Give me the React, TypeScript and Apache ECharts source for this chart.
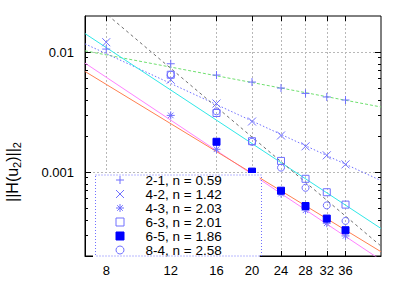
import { useEffect, useRef } from 'react';
import * as echarts from 'echarts';

// ---- data ----
const xTickValues = [8, 12, 16, 20, 24, 28, 32, 36];
const yTickValues = [0.001, 0.01];
const yMinorTickValues = [
  0.0003, 0.0004, 0.0005, 0.0006, 0.0007, 0.0008, 0.0009,
  0.002, 0.003, 0.004, 0.005, 0.006, 0.007, 0.008, 0.009,
];

const names = [
  '2-1, n = 0.59',
  '4-2, n = 1.42',
  '4-3, n = 2.03',
  '6-3, n = 2.01',
  '6-5, n = 1.86',
  '8-4, n = 2.58',
];

const x21 = [8, 12, 16, 20, 24, 28, 32, 36];
const y21 = [0.0106, 0.008, 0.00644, 0.00563, 0.00502, 0.00453, 0.00423, 0.00399];
const x42 = [8, 12, 16, 20, 24, 28, 32, 36];
const y42 = [0.0121, 0.00589, 0.00373, 0.00264, 0.00202, 0.00164, 0.00138, 0.00116];
const x43 = [12, 16, 20, 24, 28, 32, 36];
const y43 = [0.00297, 0.00155, 0.000976, 0.000662, 0.000481, 0.000375, 0.000294];
const x63 = [12, 16, 20, 24, 28, 32, 36];
const y63 = [0.00648, 0.00311, 0.00181, 0.00124, 0.00088, 0.00068, 0.000536];
const x65 = [16, 20, 24, 28, 32, 36];
const y65 = [0.00179, 0.00101, 0.0007, 0.000522, 0.00041, 0.000328];
const x84 = [12, 16, 20, 24, 28, 32, 36];
const y84 = [0.0065, 0.00321, 0.00179, 0.00109, 0.00074, 0.000528, 0.000392];

// fitted power-law lines, end points at x = 7 and x = 45
const fitX = [7, 45];
const fit21 = [0.01025, 0.00349];
const fit42 = [0.01172, 0.00085];
const fit43 = [0.0081, 0.000185];
const fit63 = [0.01427, 0.000339];
const fit65 = [0.0069, 0.000217];
const fit84 = [0.0294, 0.000242];

const FONT = '"Liberation Sans", Arial, sans-serif';
const LIGHT = '#7070ff';
const DARK = '#0000ff';
const PLUS = 'path://M5,0L5,10M0,5L10,5';
const CROSS = 'path://M0,0L10,10M10,0L0,10';
const STAR = 'path://M5,0L5,10M0,5L10,5M1.5,1.5L8.5,8.5M8.5,1.5L1.5,8.5';
const SQUARE = 'path://M0,0L10,0L10,10L0,10Z';

const zip = (xs: number[], ys: number[]) => xs.map((x, i) => [x, ys[i]]);

export default function App() {
  const ref = useRef<HTMLDivElement>(null);
  useEffect(() => {
    if (!ref.current) return;
    const chart = echarts.init(ref.current, undefined, { renderer: 'svg' });

    const markers = [
      { name: names[0], xs: x21, ys: y21, symbol: PLUS, size: 8, fill: 'rgba(0,0,0,0)', stroke: LIGHT },
      { name: names[1], xs: x42, ys: y42, symbol: CROSS, size: 8, fill: 'rgba(0,0,0,0)', stroke: LIGHT },
      { name: names[2], xs: x43, ys: y43, symbol: STAR, size: 8, fill: 'rgba(0,0,0,0)', stroke: LIGHT },
      { name: names[3], xs: x63, ys: y63, symbol: SQUARE, size: 7, fill: 'rgba(0,0,0,0)', stroke: LIGHT },
      { name: names[4], xs: x65, ys: y65, symbol: SQUARE, size: 7, fill: DARK, stroke: DARK },
      { name: names[5], xs: x84, ys: y84, symbol: 'circle', size: 7, fill: 'rgba(0,0,0,0)', stroke: LIGHT },
    ];

    const fits = [
      { ys: fit21, color: '#70e070', type: [3, 2] },
      { ys: fit42, color: '#7070ff', type: [1.5, 2] },
      { ys: fit43, color: '#ff80ff', type: 'solid' },
      { ys: fit63, color: '#30e8e8', type: 'solid' },
      { ys: fit65, color: '#ff7f50', type: 'solid' },
      { ys: fit84, color: '#707070', type: [3, 3] },
    ];

    const series: any[] = [];
    fits.forEach((f, i) => {
      series.push({
        type: 'line',
        name: 'fit' + i,
        data: zip(fitX, f.ys),
        showSymbol: false,
        symbol: 'none',
        silent: true,
        clip: true,
        z: 2,
        lineStyle: { color: f.color, width: 1, type: f.type },
      });
    });
    markers.forEach((m) => {
      series.push({
        type: 'scatter',
        name: m.name,
        data: zip(m.xs, m.ys),
        symbol: m.symbol,
        symbolSize: m.size,
        z: 3,
        itemStyle: { color: m.fill, borderColor: m.stroke, borderWidth: 1, opacity: 1 },
      });
    });

    const axisText = { fontFamily: FONT, fontSize: 13, color: '#000' };

    chart.setOption({
      animation: false,
      backgroundColor: '#fff',
      grid: {
        left: 85,
        right: 24,
        top: 16,
        bottom: 28,
        show: true,
        borderColor: '#000',
        borderWidth: 1,
        backgroundColor: 'transparent',
      },
      xAxis: [
        {
          type: 'log',
          min: 7,
          max: 45,
          position: 'bottom',
          axisLine: { show: true, lineStyle: { color: '#000', width: 1 } },
          axisTick: { show: true, inside: true, length: 5, customValues: xTickValues, lineStyle: { color: '#000' } },
          axisLabel: { show: true, customValues: xTickValues, margin: 8, formatter: (v: number) => String(v), ...axisText },
          splitLine: { show: true, lineStyle: { color: '#b8b8b8', type: [2, 2], width: 1 } },
          minorTick: { show: false },
        },
        {
          type: 'log',
          min: 7,
          max: 45,
          position: 'top',
          axisLine: { show: false },
          axisTick: { show: true, inside: true, length: 5, customValues: xTickValues, lineStyle: { color: '#000' } },
          axisLabel: { show: false },
          splitLine: { show: false },
        },
      ],
      yAxis: [
        {
          type: 'log',
          min: 0.0002,
          max: 0.02,
          position: 'left',
          axisLine: { show: true, lineStyle: { color: '#000', width: 1 } },
          axisTick: { show: true, inside: true, length: 6, customValues: yTickValues, lineStyle: { color: '#000' } },
          axisLabel: { show: true, customValues: yTickValues, margin: 11, formatter: (v: number) => String(v), ...axisText },
          splitLine: { show: true, lineStyle: { color: '#b8b8b8', type: [2, 2], width: 1 } },
        },
        {
          type: 'log',
          min: 0.0002,
          max: 0.02,
          position: 'left',
          axisLine: { show: false },
          axisTick: { show: true, inside: true, length: 3, customValues: yMinorTickValues, lineStyle: { color: '#000' } },
          axisLabel: { show: false },
          splitLine: { show: false },
        },
        {
          type: 'log',
          min: 0.0002,
          max: 0.02,
          position: 'right',
          axisLine: { show: false },
          axisTick: { show: true, inside: true, length: 6, customValues: yTickValues, lineStyle: { color: '#000' } },
          axisLabel: { show: false },
          splitLine: { show: false },
        },
        {
          type: 'log',
          min: 0.0002,
          max: 0.02,
          position: 'right',
          axisLine: { show: false },
          axisTick: { show: true, inside: true, length: 3, customValues: yMinorTickValues, lineStyle: { color: '#000' } },
          axisLabel: { show: false },
          splitLine: { show: false },
        },
      ],
      legend: {
        orient: 'vertical',
        align: 'left',
        left: 93,
        top: 173,
        padding: [0, 38, 0, 22.5],
        itemWidth: 8,
        itemHeight: 8,
        itemGap: 0,
        symbolKeepAspect: true,
        backgroundColor: '#fff',
        borderWidth: 0,
        z: 5,
        textStyle: { fontFamily: FONT, fontSize: 13.5, color: '#000', lineHeight: 13.5, padding: [0, 0, 0, 16.5] },
        data: markers.map((m) => ({
          name: m.name,
          icon: m.symbol,
          itemStyle: { color: m.fill, borderColor: m.stroke, borderWidth: 1 },
        })),
      },
      graphic: [
        {
          type: 'rect',
          left: 93,
          top: 172.5,
          shape: { width: 166, height: 81 },
          z: 100,
          silent: true,
          style: { fill: 'none', stroke: '#7070ff', lineWidth: 1, lineDash: [1, 2] },
        },
        {
          type: 'text',
          x: 12,
          y: 172,
          rotation: Math.PI / 2,
          z: 100,
          style: {
            text: '{a|||H(u}{s|2}{a|)||}{s|2}',
            align: 'center',
            verticalAlign: 'middle',
            fill: '#000',
            rich: {
              a: { fontFamily: FONT, fontSize: 16, lineHeight: 17, fill: '#000' },
              s: { fontFamily: FONT, fontSize: 11, padding: [9, 0, 0, 0], fill: '#000' },
            },
          },
        },
      ],
      series,
    });
    return () => chart.dispose();
  }, []);
  return (
    <div
      ref={ref}
      style={{ position: 'fixed', left: 0, top: 0, width: 405, height: 284, background: '#fff' }}
    />
  );
}
